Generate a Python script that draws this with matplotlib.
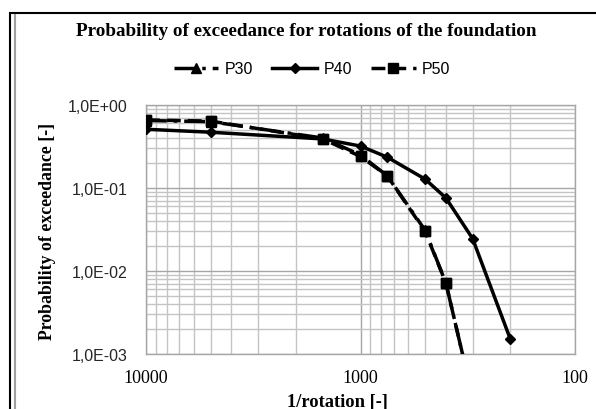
import matplotlib
matplotlib.use('Agg')
import matplotlib.pyplot as plt
from matplotlib.ticker import FixedLocator, LogLocator, NullFormatter
from matplotlib.patches import Rectangle
from matplotlib.lines import Line2D

#
# DATA
#
rotation = [10000, 5000, 1500, 1000, 750, 500, 400, 300, 200]
p30 = [0.65, 0.63, 0.40, 0.25, 0.14, 0.031, 0.0072, 0.0003]
p40 = [0.51, 0.47, 0.39, 0.32, 0.235, 0.128, 0.076, 0.0245, 0.0015]
p50 = [0.66, 0.64, 0.39, 0.24, 0.14, 0.030, 0.0072, 0.0003]

ytick_vals = [1e0, 1e-1, 1e-2, 1e-3]
ytick_labels = ['1,0E+00', '1,0E-01', '1,0E-02', '1,0E-03']
xtick_vals = [10000, 1000, 100]
xtick_labels = ['10000', '1000', '100']

SERIF = 'Liberation Serif'
SANS = 'Liberation Sans'

#
# FIGURE
#
fig = plt.figure(figsize=(5.96, 4.10), dpi=100)
fig.patch.set_facecolor('white')

# outer chart border (extends past the picture on right / bottom)
fig.add_artist(Rectangle((10/596, -0.1), 1.2, 1 - 14/410 + 0.1, transform=fig.transFigure,
                         fill=False, edgecolor='black', linewidth=1.5))
fig.add_artist(Line2D([14.5/596, 14.5/596], [0, 1 - 16/410], transform=fig.transFigure,
                      color='#a0a0a0', linewidth=1.5))

ax = fig.add_axes([146/596, 1 - 355/410, (575 - 146)/596, (355 - 106)/410])
ax.set_xscale('log')
ax.set_yscale('log')
ax.set_xlim(10000, 100)
ax.set_ylim(1e-3, 1)

ax.xaxis.set_major_locator(FixedLocator(xtick_vals))
ax.set_xticklabels(xtick_labels, fontfamily=SERIF, fontsize=13)
ax.xaxis.set_minor_locator(LogLocator(base=10, subs=range(2, 10)))
ax.xaxis.set_minor_formatter(NullFormatter())
ax.yaxis.set_major_locator(FixedLocator(ytick_vals))
ax.set_yticklabels(ytick_labels, fontfamily=SANS, fontsize=11.5, color='#262626')
ax.yaxis.set_minor_locator(LogLocator(base=10, subs=range(2, 10)))
ax.yaxis.set_minor_formatter(NullFormatter())

ax.tick_params(which='both', length=0)
ax.tick_params(axis='y', pad=13)
ax.tick_params(axis='x', pad=11)

ax.grid(True, which='major', color='#a6a6a6', linewidth=1.0)
ax.grid(True, which='minor', color='#c4c4c4', linewidth=1.0)
for s in ax.spines.values():
    s.set_color('#a6a6a6')
    s.set_linewidth(1.0)

# P30 and P50 nearly coincide: P30 dash-dot line on top, P50 squares on top of that
l30, = ax.plot(rotation[:len(p30)], p30, color='black', linewidth=2.5,
               linestyle=(0, (6, 2, 1, 2)), marker='^', markersize=7, zorder=3)
l40, = ax.plot(rotation, p40, color='black', linewidth=2.5, linestyle='-',
               marker='D', markersize=5, zorder=3)
l50, = ax.plot(rotation[:len(p50)], p50, color='black', linewidth=2.5,
               linestyle=(0, (4, 2)), marker='s', markersize=7.5, zorder=2)
ax.plot(rotation[:len(p50)], p50, linestyle='none', color='black',
        marker='s', markersize=7.5, zorder=4)

fig.text(306/596, 1 - 32/410, 'Probability of exceedance for rotations of the foundation',
         ha='center', va='center', fontfamily=SERIF, fontweight='bold', fontsize=13.8)
fig.text(48/596, 1 - 231/410, 'Probability of exceedance [-]', rotation=90,
         ha='center', va='center', fontfamily=SERIF, fontweight='bold', fontsize=12.8)
fig.text(337/596, 1 - 403/410, '1/rotation [-]', ha='center', va='center',
         fontfamily=SERIF, fontweight='bold', fontsize=13.3)

leg = fig.legend([l30, l40, l50], ['P30', 'P40', 'P50'], loc='center',
                 bbox_to_anchor=(312/596, 1 - 70/410), ncol=3, frameon=False,
                 prop={'family': SANS, 'size': 11.5}, handlelength=2.8,
                 columnspacing=1.2, handletextpad=0.4)

fig.savefig('out.png', dpi=100)
